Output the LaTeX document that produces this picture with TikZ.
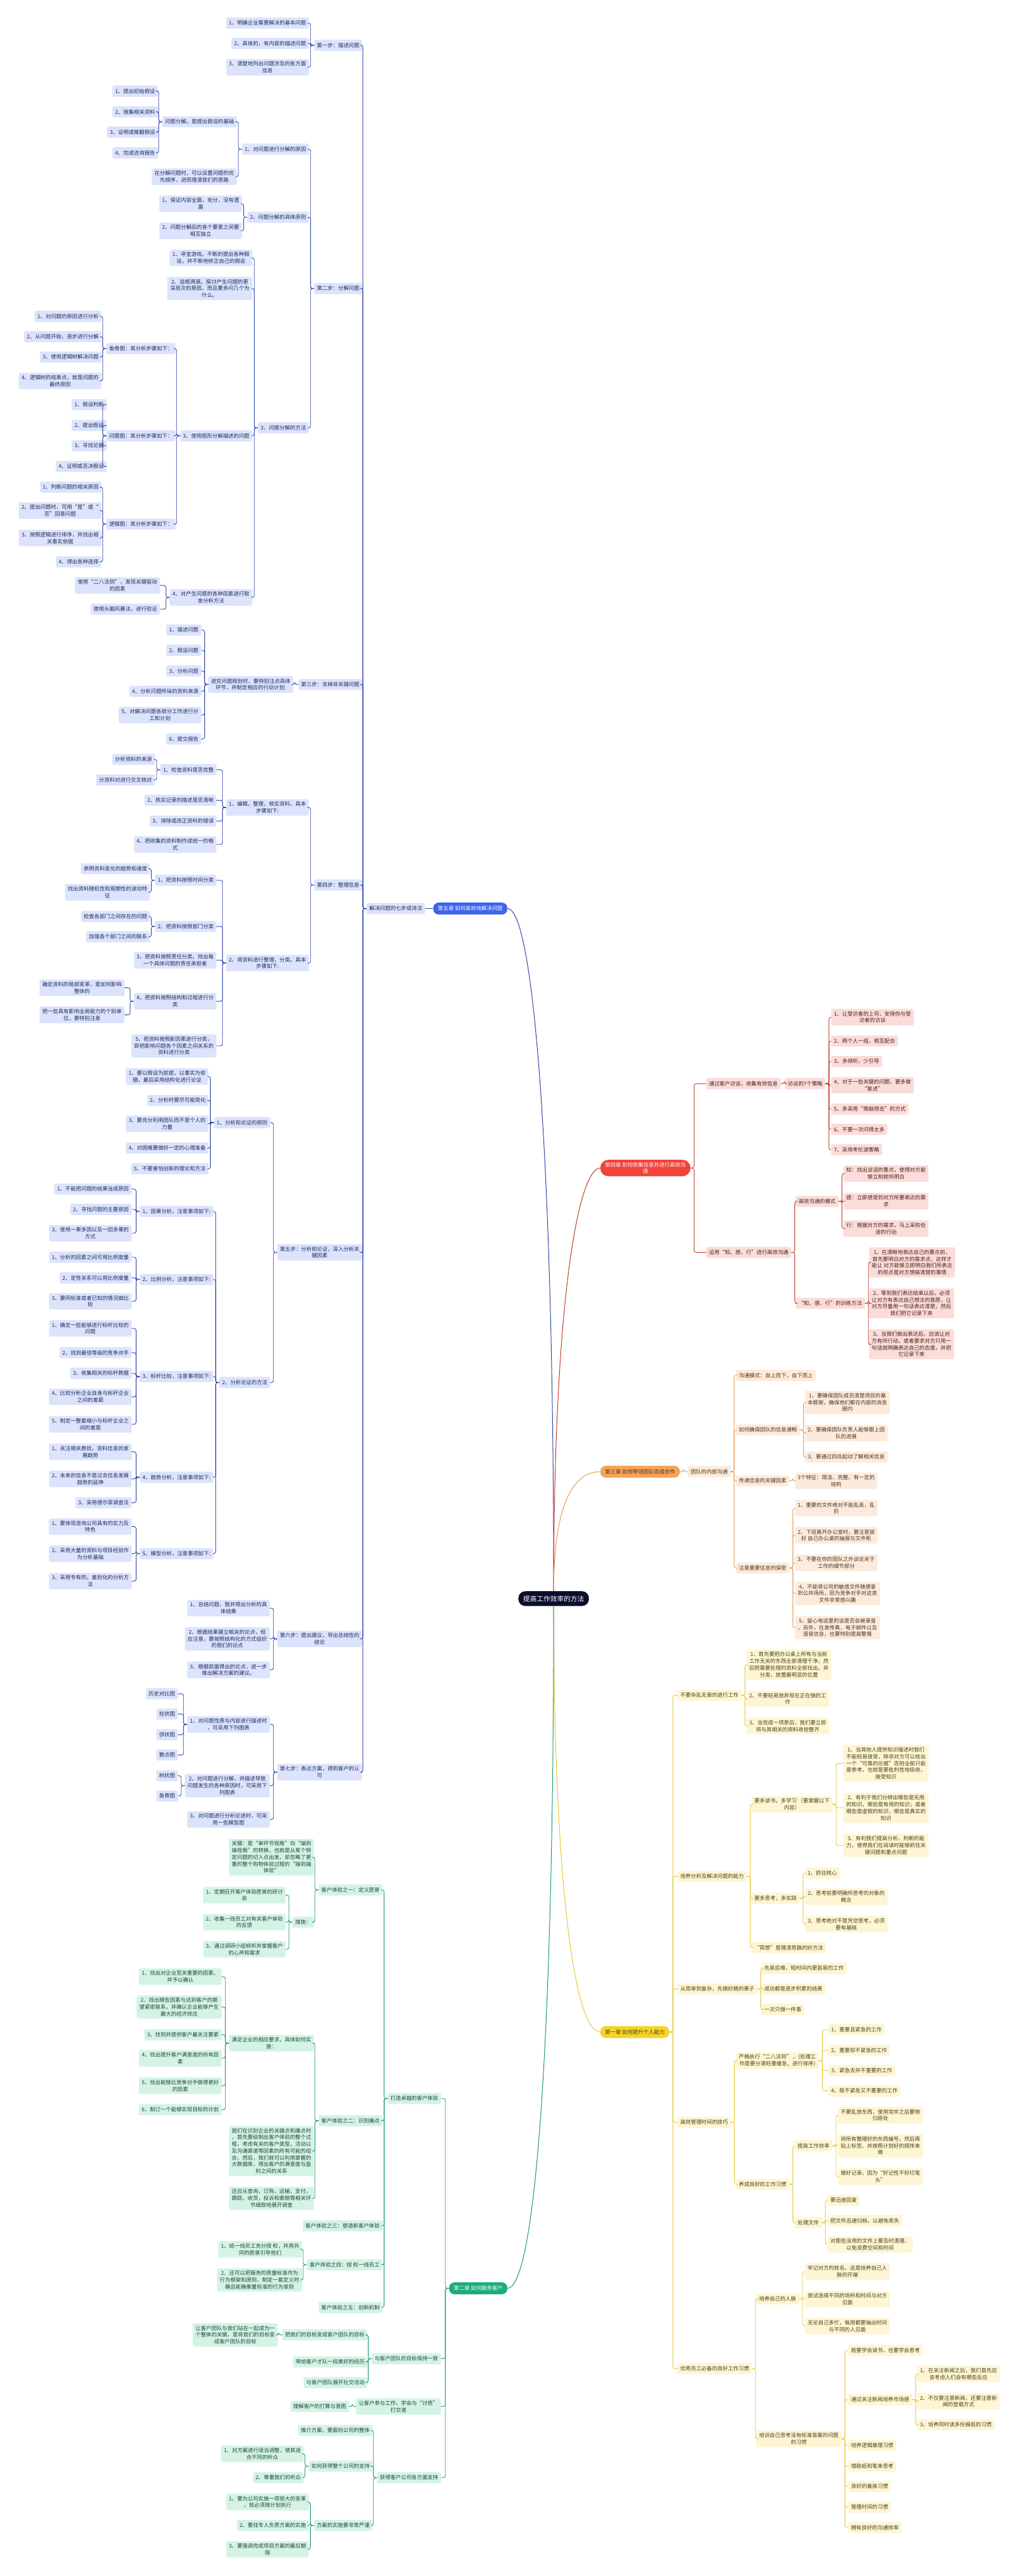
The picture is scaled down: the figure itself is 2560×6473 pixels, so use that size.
\documentclass[tikz,border=0pt]{standalone}
\usepackage{fontspec}
\setmainfont{Noto Sans CJK SC}

\definecolor{bluLine}{HTML}{3045A8}
\definecolor{bluFill}{HTML}{DCE3FB}
\definecolor{bluText}{HTML}{1E2A5E}
\definecolor{bluChap}{HTML}{3C64F0}
\definecolor{redLine}{HTML}{C0392B}
\definecolor{redFill}{HTML}{FADCD9}
\definecolor{redText}{HTML}{4A1F1B}
\definecolor{redChap}{HTML}{F0433A}
\definecolor{orgLine}{HTML}{E59A4F}
\definecolor{orgFill}{HTML}{FCEBDC}
\definecolor{orgText}{HTML}{4A3320}
\definecolor{orgChap}{HTML}{F5A458}
\definecolor{yelLine}{HTML}{E6C72E}
\definecolor{yelFill}{HTML}{FDF5D3}
\definecolor{yelText}{HTML}{4A4018}
\definecolor{yelChap}{HTML}{F5D327}
\definecolor{grnLine}{HTML}{1A9A6B}
\definecolor{grnFill}{HTML}{D4F3E5}
\definecolor{grnText}{HTML}{1C4636}
\definecolor{grnChap}{HTML}{1BAE77}
\definecolor{ctrFill}{HTML}{0B0D2E}

\begin{document}
\begin{tikzpicture}[x=1pt, y=-1pt,
    box/.style={rounded corners=4pt, inner xsep=7pt, inner ysep=6pt,
                minimum height=28pt, align=center,
                font=\fontsize{13.3}{17}\selectfont},
    bluebox/.style={box, fill=bluFill, text=bluText},
    redbox/.style={box, fill=redFill, text=redText},
    orgbox/.style={box, fill=orgFill, text=orgText},
    yelbox/.style={box, fill=yelFill, text=yelText},
    grnbox/.style={box, fill=grnFill, text=grnText},
    chap/.style={box, rounded corners=14pt, inner xsep=12pt, minimum height=30pt},
    link/.style={line width=1.4pt, rounded corners=5pt},
    bluelink/.style={link, draw=bluLine},
    redlink/.style={link, draw=redLine},
    orglink/.style={link, draw=orgLine},
    yellink/.style={link, draw=yelLine},
    grnlink/.style={link, draw=grnLine}
  ]
  \useasboundingbox (0,0) rectangle (2560,6473);
  \fill[white] (0,0) rectangle (2560,6473);

  % centre
  \node[chap, fill=ctrFill, text=white, rounded corners=17pt, minimum height=37pt,
        font=\fontsize{17}{20}\selectfont] (ctr) at (1391,4017) {提高工作效率的方法};

  % ---------------- 第五章 ----------------
  \node[chap, fill=bluChap, text=white, anchor=east] (b0) at (1275,2283) {第五章 如何高效地解决问题};
  \node[bluebox, anchor=east] (b) at (1068,2283) {解决问题的七步成诗法};
  \foreach \n/\y/\txt in {b1/114/{第一步：描述问题}, b2/725/{第二步：分解问题},
      b3/1720/{第三步：去掉非关键问题}, b4/2224/{第四步：整理信息},
      b5/3147/{第五步：分析和论证，深入分析关\\键因素},
      b6/4118/{第六步：提出建议，导出总结性的\\结论},
      b7/4453/{第七步：表达方案，得到客户的认\\可}}
    \node[bluebox, anchor=east] (\n) at (910,\y) {\txt};

  % step 1
  \foreach \n/\y/\txt in {b1a/58/{1、明确企业需要解决的基本问题}, b1b/109/{2、具体的，有内容的描述问题},
      b1c/169/{3、清楚地列出问题涉及的各方面\\信息}}
    \node[bluebox, anchor=east] (\n) at (776,\y) {\txt};

  % step 2
  \foreach \n/\y/\txt in {b21/375/{1、对问题进行分解的原因}, b22/546/{2、问题分解的具体原则},
      b23/1075/{3、问题分解的方法}}
    \node[bluebox, anchor=east] (\n) at (776,\y) {\txt};
  \foreach \n/\y/\txt in {b21a/306/{问题分解，是提出假设的基础},
      b21b/444/{在分解问题时，可以设置问题的优\\先顺序，进而理清我们的思路}}
    \node[bluebox, anchor=east] (\n) at (595,\y) {\txt};
  \foreach \n/\y/\txt in {b21a1/229/{1、提出初始假设}, b21a2/281/{2、搜集相关资料},
      b21a3/332/{3、证明或推翻假设}, b21a4/384/{4、完成咨询报告}}
    \node[bluebox, anchor=east] (\n) at (397,\y) {\txt};
  \foreach \n/\y/\txt in {b22a/512/{1、保证内容全面，充分，没有遗\\漏},
      b22b/580/{2、问题分解后的各个要素之间要\\相互独立}}
    \node[bluebox, anchor=east] (\n) at (608,\y) {\txt};
  \foreach \n/\y/\txt in {b23a/648/{1、寻宝游戏。不断的提出各种假\\设，并不断地修正自己的假设},
      b23b/725/{2、追根溯源。探讨产生问题的更\\深层次的原因，而且要多问几个为\\什么。},
      b23c/1095/{3、使用图形分解描述的问题},
      b23d/1501/{4、对产生问题的各种因素进行取\\舍分析方法}}
    \node[bluebox, anchor=east] (\n) at (634,\y) {\txt};
  \foreach \n/\y/\txt in {fish/876/{鱼骨图：其分析步骤如下：}, qmap/1095/{问题图：其分析步骤如下：},
      lmap/1317/{逻辑图：其分析步骤如下：}}
    \node[bluebox, anchor=east] (\n) at (441,\y) {\txt};
  \foreach \n/\y/\txt in {fish1/795/{1、对问题的原因进行分析}, fish2/846/{2、从问题开始，逐步进行分解},
      fish3/897/{3、使用逻辑树解决问题}, fish4/957/{4、逻辑树的结束点，就是问题的\\最终原因}}
    \node[bluebox, anchor=east] (\n) at (255,\y) {\txt};
  \foreach \n/\y/\txt in {qmap1/1017/{1、假设判断}, qmap2/1069/{2、提出假设},
      qmap3/1120/{3、寻找论据}, qmap4/1172/{4、证明或否决假设}}
    \node[bluebox, anchor=east] (\n) at (268,\y) {\txt};
  \foreach \n/\y/\txt in {lmap1/1224/{1、判断问题的相关原因},
      lmap2/1283/{2、提出问题时，可用“是”或“\\否”回答问题},
      lmap3/1352/{3、按照逻辑进行排序，并找出相\\关事实依据}, lmap4/1412/{4、得出各种选择}}
    \node[bluebox, anchor=east] (\n) at (255,\y) {\txt};
  \foreach \n/\y/\txt in {b23d1/1471/{使用“二八法则”，发现关键驱动\\的因素},
      b23d2/1531/{使用头脑风暴法，进行验证}}
    \node[bluebox, anchor=east] (\n) at (402,\y) {\txt};

  % step 3
  \node[bluebox, anchor=east] (b31) at (737,1720) {进究问题规划时，要特别注点具体\\环节，并制定相应的行动计划:};
  \foreach \n/\y/\txt in {b31a/1583/{1、描述问题}, b31b/1634/{2、假设问题}, b31c/1686/{3、分析问题},
      b31d/1737/{4、分析问题所垛的资料来源}, b31e/1797/{5、对解决问题各部分工作进行分\\工和计划},
      b31f/1857/{6、提交报告}}
    \node[bluebox, anchor=east] (\n) at (506,\y) {\txt};

  % step 4
  \foreach \n/\y/\txt in {b41/2029/{1、编辑，整理，核实资料，具本\\步骤如下:},
      b42/2420/{2、将资料进行整理，分类。具本\\步骤如下:}}
    \node[bluebox, anchor=east] (\n) at (776,\y) {\txt};
  \foreach \n/\y/\txt in {b411/1934/{1、检查资料是否完整}, b412/2011/{2、核实记录的描述是否清晰},
      b413/2063/{3、排除或改正资料的错误}, b414/2122/{4、把收集的资料制作成统一的格\\式},
      b421/2212/{1、把资料按照时间分类}, b422/2328/{2、把资料按照部门分类},
      b423/2413/{3、把资料按照责任分类。找出每\\一个具体问题的责任承担者},
      b424/2516/{4、把资料按照结构和过程进行分\\类},
      b425/2628/{5、把资料按照影因素进行分类，\\即把影响问题各个因素之间关系的\\资料进行分类}}
    \node[bluebox, anchor=east] (\n) at (544,\y) {\txt};
  \foreach \n/\y/\txt in {b411a/1908/{分析资料的来源}, b411b/1960/{分资料对进行交叉核对}}
    \node[bluebox, anchor=east] (\n) at (389,\y) {\txt};
  \foreach \n/\y/\txt in {b421a/2183/{表明资料变化的趋势和速度},
      b421b/2242/{找出资料随机性和周期性的波动特\\征},
      b422a/2303/{检查各部门之间存在的问题}, b422b/2354/{加强各个部门之间的联系}}
    \node[bluebox, anchor=east] (\n) at (377,\y) {\txt};
  \foreach \n/\y/\txt in {b424a/2482/{确定资料的局部变革，是如何影响\\整体的},
      b424b/2550/{把一些具有影响全局能力的个别单\\位，要特别注意}}
    \node[bluebox, anchor=east] (\n) at (313,\y) {\txt};

  % step 5
  \foreach \n/\y/\txt in {b51/2821/{1、分析和论证的原则}, b52/3474/{2、分析论证的方法}}
    \node[bluebox, anchor=east] (\n) at (679,\y) {\txt};
  \foreach \n/\y/\txt in {b51a/2705/{1、要以假设为前提，以事实为依\\据，最后采用结构化进行论证},
      b51b/2765/{2、分析时要尽可能简化}, b51c/2824/{3、要充分利用团队而不是个人的\\力量},
      b51d/2885/{4、对困难要做好一定的心理准备}, b51e/2937/{5、不要害怕创新的理论和方法}}
    \node[bluebox, anchor=east] (\n) at (524,\y) {\txt};
  \foreach \n/\y/\txt in {m1/3044/{1、因果分析，注意事项如下:}, m2/3215/{2、比例分析，注意事项如下:},
      m3/3459/{3、标杆比较，注意事项如下:}, m4/3712/{4、趋势分析，注意事项如下:},
      m5/3904/{5、模型分析，注意事项如下:}}
    \node[bluebox, anchor=east] (\n) at (536,\y) {\txt};
  \foreach \n/\y/\txt in {m1a/2988/{1、不能把问题的结果当成原因}, m1b/3039/{2、寻找问题的主要原因},
      m1c/3099/{3、使用一果多因以及一因多果的\\方式},
      m2a/3159/{1、分析的因素之间可用比例度量}, m2b/3211/{2、定性关系可以用比例度量},
      m2c/3270/{3、要同标准或者已知的情况做比\\较},
      m3a/3338/{1、确定一些能够进行标杆比较的\\问题}, m3b/3399/{2、找到最佳等级的竞争对手},
      m3c/3451/{3、收集相关的标杆数据}, m3d/3510/{4、比较分析企业自身与标杆企业\\之间的差距},
      m3e/3579/{5、制定一整套缩小与标杆企业之\\间的差距},
      m4a/3648/{1、关注相关数扰，资料信息的发\\展趋势}, m4b/3716/{2、未来的信息不是过去信息发展\\趋势的延伸},
      m4c/3776/{3、采用德尔菲调查法},
      m5a/3836/{1、要体现咨询公司具有的实力及\\特色}, m5b/3904/{2、采用大量的资料与项目经验作\\为分析基础},
      m5c/3973/{3、采用专有的，差别化的分析方\\法}}
    \node[bluebox, anchor=east] (\n) at (331,\y) {\txt};

  % step 6 and 7
  \foreach \n/\y/\txt in {b6a/4041/{1、总结问题，我并得出分析的具\\体结果},
      b6b/4118/{2、根据结果建立相关的论点，但\\应注意，要按照结构化的方式组织\\的我们的论点},
      b6c/4196/{3、根据前面得出的论点，进一步\\推出解决方案的建议。},
      b7a/4333/{1、对问题性质与内容进行描述时\\，可采用下列图表},
      b7b/4487/{2、对问题进行分解，并描述导致\\问题发生的各种原因时，可采用下\\列图表},
      b7c/4572/{3、对问题进行分析论述时，可采\\用一些模型图}}
    \node[bluebox, anchor=east] (\n) at (678,\y) {\txt};
  \foreach \n/\y/\txt in {b7a1/4256/{历史对比图}, b7a2/4307/{柱状图}, b7a3/4359/{饼状图},
      b7a4/4410/{散点图}, b7b1/4462/{树状图}, b7b2/4513/{鱼骨图}}
    \node[bluebox, anchor=east] (\n) at (447,\y) {\txt};

  % blue links
  \draw[bluelink] (b0.west) -- (b.east);
  \foreach \p/\kids in {b/{b1,b2,b3,b4,b5,b6,b7}, b1/{b1a,b1b,b1c}, b2/{b21,b22,b23},
      b21/{b21a,b21b}, b21a/{b21a1,b21a2,b21a3,b21a4}, b22/{b22a,b22b},
      b23/{b23a,b23b,b23c,b23d}, b23c/{fish,qmap,lmap}, fish/{fish1,fish2,fish3,fish4},
      qmap/{qmap1,qmap2,qmap3,qmap4}, lmap/{lmap1,lmap2,lmap3,lmap4}, b23d/{b23d1,b23d2},
      b3/{b31}, b31/{b31a,b31b,b31c,b31d,b31e,b31f}, b4/{b41,b42},
      b41/{b411,b412,b413,b414}, b411/{b411a,b411b},
      b42/{b421,b422,b423,b424,b425}, b421/{b421a,b421b}, b422/{b422a,b422b},
      b424/{b424a,b424b}, b5/{b51,b52}, b51/{b51a,b51b,b51c,b51d,b51e},
      b52/{m1,m2,m3,m4,m5}, m1/{m1a,m1b,m1c}, m2/{m2a,m2b,m2c}, m3/{m3a,m3b,m3c,m3d,m3e},
      m4/{m4a,m4b,m4c}, m5/{m5a,m5b,m5c}, b6/{b6a,b6b,b6c}, b7/{b7a,b7b,b7c},
      b7a/{b7a1,b7a2,b7a3,b7a4}, b7b/{b7b1,b7b2}}
    \foreach \c in \kids
      \draw[bluelink] (\p.west) -- ++(-9,0) |- (\c.east);

  % ---------------- 第二章 ----------------
  \node[chap, fill=grnChap, text=white, anchor=east] (g0) at (1275,5750) {第二章 如何服务客户};
  \foreach \n/\y/\txt in {g1/5273/{打造卓越的客户体验}, g2/5927/{与客户团队的目标保持一致},
      g3/6047/{让客户参与工作，学会与“讨债”\\打交道}, g4/6226/{获得客户公司各方面支持}}
    \node[grnbox, anchor=east] (\n) at (1108,\y) {\txt};
  \foreach \n/\y/\txt in {g11/4749/{客户体验之一：定义愿景}, g12/5329/{客户体验之二：识别痛点},
      g13/5593/{客户体验之三：塑造新客户体验}, g14/5691/{客户体验之四：授 权一线员工},
      g15/5798/{客户体验之五：创新机制}}
    \node[grnbox, anchor=east] (\n) at (961,\y) {\txt};
  \foreach \n/\y/\txt in {g11a/4667/{关键：是“单环节视角”向“端到\\端视角”的转换，也就是从某个特\\定问题的切入点出发，却忽略了更\\重的整个购物体验过程的“端到端\\体验”},
      g11b/4830/{措施：},
      g12a/5134/{满足企业的相应要求，具体如何实\\施：},
      g12b/5405/{我们在识别企业的关键点和痛点时\\，首先要绘制出客户体验的整个过\\程，考虑有关的客户类型，活动以\\及沟通渠道等因素的所有可能的组\\合。然后，我们就可以利用掌握的\\大数据库，得出客户的满意度与盈\\利之间的关系},
      g12c/5524/{还应从查询，订购，运输，支付，\\跟踪，收货，投诉和索赔等相关环\\节细致地展开调查}}
    \node[grnbox, anchor=east] (\n) at (789,\y) {\txt};
  \foreach \n/\y/\txt in {g11b1/4762/{1、定期召开客户体验愿景的研讨\\会},
      g11b2/4830/{2、收集一线员工对有关客户体验\\的反馈},
      g11b3/4898/{3、通过调研小组倾听并掌握客户\\的心声和需求}}
    \node[grnbox, anchor=east] (\n) at (718,\y) {\txt};
  \foreach \n/\y/\txt in {g12a1/4967/{1、找出对企业至关重要的因素，\\并予以确认},
      g12a2/5043/{2、找出哪些因素与达到客户的期\\望紧密联系，并确认企业能够产生\\最大的经济效应},
      g12a3/5113/{3、找到并提供客户最关注要素}, g12a4/5172/{4、找出提升客户满意度的所有因\\素},
      g12a5/5241/{5、找出能够比竞争对手做得更好\\的因素}, g12a6/5301/{6、制订一个能够实现目标的计划}}
    \node[grnbox, anchor=east] (\n) at (557,\y) {\txt};
  \foreach \n/\y/\txt in {g14a/5652/{1、给一线员工充分授 权，并用共\\同的愿景引导他们},
      g14b/5729/{2、还可以把服务的质量标准作为\\行为框架和原则，制定一套定义时\\确且能确衡量标准的行为准则}}
    \node[grnbox, anchor=east] (\n) at (759,\y) {\txt};
  \foreach \n/\y/\txt in {g21/5867/{把我们的目标变成客户团队的目标}, g22/5935/{带给客户才队一段美好的经历},
      g23/5987/{与客户团队展开社交活动}}
    \node[grnbox, anchor=east] (\n) at (923,\y) {\txt};
  \node[grnbox, anchor=east] (g21a) at (698,5867) {让客户团队与我们站在一起成为一\\个整体的关键，是将我们的目标变\\成客户团队的目标};
  \node[grnbox, anchor=east] (g31) at (877,6047) {理解客户的打算与意图};
  \foreach \n/\y/\txt in {g41/6107/{推介方案，要面向公司的整体}, g42/6197/{如何获得整个公司的支持},
      g43/6346/{方案的实施要非常严谨}}
    \node[grnbox, anchor=east] (\n) at (936,\y) {\txt};
  \foreach \n/\y/\txt in {g42a/6166/{1、对方案进行适当调整，使其适\\合不同的听众}, g42b/6226/{2、尊重我们的听众}}
    \node[grnbox, anchor=east] (\n) at (763,\y) {\txt};
  \foreach \n/\y/\txt in {g43a/6287/{1、要为公司实施一项很大的变革\\，就必须按计划执行},
      g43b/6346/{2、要找专人负责方案的实施}, g43c/6406/{3、要强调完成项目方案的最后期\\限}}
    \node[grnbox, anchor=east] (\n) at (776,\y) {\txt};

  % green links
  \foreach \p/\kids in {g0/{g1,g2,g3,g4}, g1/{g11,g12,g13,g14,g15}, g11/{g11a,g11b},
      g11b/{g11b1,g11b2,g11b3}, g12/{g12a,g12b,g12c},
      g12a/{g12a1,g12a2,g12a3,g12a4,g12a5,g12a6}, g14/{g14a,g14b}, g2/{g21,g22,g23},
      g21/{g21a}, g3/{g31}, g4/{g41,g42,g43}, g42/{g42a,g42b}, g43/{g43a,g43b,g43c}}
    \foreach \c in \kids
      \draw[grnlink] (\p.west) -- ++(-9,0) |- (\c.east);

  % ---------------- 第四章 ----------------
  \node[chap, fill=redChap, text=white, rounded corners=20pt, anchor=west] (r0) at (1508,2935) {第四章 如何收集信息并进行高效沟\\通};
  \foreach \n/\y/\txt in {r1/2723/{通过客户访谈，收集有效信息}, r2/3147/{运用“知、感、行”进行高效沟通}}
    \node[redbox, anchor=west] (\n) at (1774,\y) {\txt};
  \node[redbox, anchor=west] (r11) at (1972,2723) {访谈的7个策略};
  \foreach \n/\y/\txt in {r11a/2556/{1、让受访者的上司，安排你与受\\访者的访谈}, r11b/2616/{2、两个人一组，相互配合},
      r11c/2667/{3、多倾听，少引导}, r11d/2727/{4、对于一些关键的问题，要多做\\“复述”},
      r11e/2787/{5、多采用“旁敲侧击”的方式}, r11f/2838/{6、不要一次问得太多},
      r11g/2889/{7、采用考伦波策略}}
    \node[redbox, anchor=west] (\n) at (2088,\y) {\txt};
  \foreach \n/\y/\txt in {r21/3019/{高效沟通的模式}, r22/3275/{“知、感、行”的训练方法}}
    \node[redbox, anchor=west] (\n) at (1999,\y) {\txt};
  \foreach \n/\y/\txt in {r21a/2949/{知：找出谈话的重点，使得对方能\\够立刻就听明白},
      r21b/3018/{感：立即感受到对方所要表达的需\\求}, r21c/3087/{行：根据对方的需求，马上采购合\\适的行动}}
    \node[redbox, anchor=west] (\n) at (2119,\y) {\txt};
  \foreach \n/\y/\txt in {r22a/3172/{1、在清晰地表达自己的要点前，\\首先要明白对方的需求点，这样才\\能让 对方能够立即明白我们所表达\\的观点是对方想搞清楚的事情},
      r22b/3275/{2、等到我们表达结束以后，必须\\让对方有表达自己想法的意愿，让\\对方尽量用一句话表达清楚，然后\\我们把它记录下来},
      r22c/3378/{3、当我们做出表达后，应该让对\\方有所行动，或者要求对方只用一\\句话就明确表达自己的态度，并把\\它记录下来}}
    \node[redbox, anchor=west] (\n) at (2183,\y) {\txt};

  % red links
  \foreach \p/\kids in {r0/{r1,r2}, r1/{r11}, r11/{r11a,r11b,r11c,r11d,r11e,r11f,r11g},
      r2/{r21,r22}, r21/{r21a,r21b,r21c}, r22/{r22a,r22b,r22c}}
    \foreach \c in \kids
      \draw[redlink] (\p.east) -- ++(9,0) |- (\c.west);

  % ---------------- 第三章 ----------------
  \node[chap, fill=orgChap, text=orgText, anchor=west] (o0) at (1508,3698) {第三章 如何带领团队完成合作};
  \node[orgbox, anchor=west] (o1) at (1728,3698) {团队的内部沟通};
  \foreach \n/\y/\txt in {o11/3456/{沟通模式：自上而下，自下而上}, o12/3593/{如何确保团队的信息通畅},
      o13/3721/{传递信息的关键因素}, o14/3940/{注意重要信息的保密}}
    \node[orgbox, anchor=west] (\n) at (1849,\y) {\txt};
  \foreach \n/\y/\txt in {o12a/3524/{1、要确保团队成员清楚项目的基\\本框架，确保他们都在内部的消息\\圈内},
      o12b/3601/{2、要确保团队负责人能够跟上团\\队的进展}, o12c/3661/{3、要通过四处起动了解相关信息}}
    \node[orgbox, anchor=west] (\n) at (2022,\y) {\txt};
  \foreach \n/\y/\txt in {o13a/3721/{3个特征：简洁、完整、有一定的\\结构},
      o14a/3790/{1、重要的文件绝对不能乱丢，乱\\扔},
      o14b/3858/{2、下班离开办公室时，要注意锁\\好 自己办公桌的抽屉与文件柜},
      o14c/3927/{3、不要在你的团队之外谈论关于\\工作的细节部分},
      o14d/4004/{4、不能将公司的敏感文件随便拿\\到公共场所，因为竞争对手对这类\\文件非常感兴趣},
      o14e/4090/{5、留心电话里的谈是否会被录音\\，另外，在发传真，电子邮件以及\\语音信息，也要特别提高警惕}}
    \node[orgbox, anchor=west] (\n) at (1997,\y) {\txt};

  % orange links
  \foreach \p/\kids in {o0/{o1}, o1/{o11,o12,o13,o14}, o12/{o12a,o12b,o12c}, o13/{o13a},
      o14/{o14a,o14b,o14c,o14d,o14e}}
    \foreach \c in \kids
      \draw[orglink] (\p.east) -- ++(9,0) |- (\c.west);

  % ---------------- 第一章 ----------------
  \node[chap, fill=yelChap, text=yelText, anchor=west] (y0) at (1508,5106) {第一章 如何提升个人能力};
  \foreach \n/\y/\txt in {y1/4260/{不要杂乱无章的进行工作}, y2/4715/{培养分析及解决问题的能力},
      y3/4998/{从简单到复杂，先摘好摘的果子}, y4/5333/{高效管理时间的技巧},
      y5/5952/{优秀员工必备的良好工作习惯}}
    \node[yelbox, anchor=west] (\n) at (1702,\y) {\txt};
  \foreach \n/\y/\txt in {y1a/4183/{1、首先要把办公桌上所有与当前\\工作无关的东西全部清理干净，然\\后把需要处理的资料全部找出，并\\分类，放置最明显的位置},
      y1b/4269/{2、不要轻易放弃现在正在做的工\\作},
      y1c/4337/{3、当完成一项茶后，我们要立即\\将与其相关的资料收拾整齐}}
    \node[yelbox, anchor=west] (\n) at (1875,\y) {\txt};
  \foreach \n/\y/\txt in {y21/4534/{要多读书，多学习 （要掌握以下\\内容）}, y22/4770/{要多思考，多实践},
      y23/4894/{“冥想”是理清思路的好方法}}
    \node[yelbox, anchor=west] (\n) at (1888,\y) {\txt};
  \foreach \n/\y/\txt in {y21a/4431/{1、当其他人提供知识描述时我们\\不能轻易接受，除非对方可以给出\\一个“可靠的论据”否则全部只能\\是参考，也就是要批判性地吸收，\\接受知识},
      y21b/4543/{2、有利于我们分辨出哪些是无用\\的知识，哪些是有用的知识；或者\\哪些是虚假的知识，哪些是真实的\\知识},
      y21c/4637/{3、有利我们提高分析，判断的能\\力，使得我们在阅读时能够抓住关\\键问题和重点问题}}
    \node[yelbox, anchor=west] (\n) at (2119,\y) {\txt};
  \foreach \n/\y/\txt in {y22a/4707/{1、抓住核心}, y22b/4766/{2、思考前要明确所思考的对象的\\概念},
      y22c/4835/{3、思考绝对不是凭空思考，必须\\要有基础}}
    \node[yelbox, anchor=west] (\n) at (2022,\y) {\txt};
  \foreach \n/\y/\txt in {y3a/4946/{先易后难，短时间内更容易的工作}, y3b/4998/{成功都是逐步积累的结果},
      y3c/5049/{一次只做一件事}}
    \node[yelbox, anchor=west] (\n) at (1913,\y) {\txt};
  \foreach \n/\y/\txt in {y41/5178/{严格执行“二八法则” 。(处理工\\作是要分清轻重缓急，进行排序)},
      y42/5489/{养成良好的工作习惯}}
    \node[yelbox, anchor=west] (\n) at (1849,\y) {\txt};
  \foreach \n/\y/\txt in {y41a/5100/{1、重要且紧急的工作}, y41b/5152/{2、重要却不紧急的工作},
      y41c/5203/{3、紧急去并不重要的工作}, y41d/5254/{4、既不紧急又不重要的工作}}
    \node[yelbox, anchor=west] (\n) at (2081,\y) {\txt};
  \foreach \n/\y/\txt in {y421/5392/{提高工作效率}, y422/5585/{处理文件}}
    \node[yelbox, anchor=west] (\n) at (1997,\y) {\txt};
  \foreach \n/\y/\txt in {y421a/5315/{不要乱放东西，使用完毕之后要物\\归原处},
      y421b/5392/{将所有整理好的东西编号，然后再\\贴上标签，并按照计划好的顺序来\\做},
      y421c/5469/{做好记录，因为“好记性不好烂笔\\头”}}
    \node[yelbox, anchor=west] (\n) at (2105,\y) {\txt};
  \foreach \n/\y/\txt in {y422a/5529/{要迅速回复}, y422b/5580/{把文件迅速归档，以避免丢失},
      y422c/5640/{对那些没用的文件上要及时清理，\\以免浪费空间和时间}}
    \node[yelbox, anchor=west] (\n) at (2079,\y) {\txt};
  \foreach \n/\y/\txt in {y51/5777/{培养自己的人脉}, y52/6128/{培训自己思考没有标准答案的问题\\的习惯}}
    \node[yelbox, anchor=west] (\n) at (1900,\y) {\txt};
  \foreach \n/\y/\txt in {y51a/5708/{牢记对方的姓名，这是培养自己人\\脉的开端},
      y51b/5777/{尝试选择不同的场所和时间与对方\\见面},
      y51c/5845/{无论自己多忙，每周都要抽出时间\\与不同的人见面}}
    \node[yelbox, anchor=west] (\n) at (2022,\y) {\txt};
  \foreach \n/\y/\txt in {y52a/5906/{既要学会读书，也要学会思考}, y52b/6030/{通过关注新闻培养市场感},
      y52c/6145/{培养逻辑推理习惯}, y52d/6197/{借助纸和笔来思考}, y52e/6248/{良好的着装习惯},
      y52f/6300/{管理时间的习惯}, y52g/6351/{拥有良好的沟通效率}}
    \node[yelbox, anchor=west] (\n) at (2131,\y) {\txt};
  \foreach \n/\y/\txt in {y52b1/5965/{1、在关注新闻之后，我们首先应\\该考虑人们会有哪些反应},
      y52b2/6034/{2、不仅要注意新闻，还要注意新\\闻的登载方式}, y52b3/6093/{3、培养同时读多份报纸的习惯}}
    \node[yelbox, anchor=west] (\n) at (2304,\y) {\txt};

  % yellow links
  \foreach \p/\kids in {y0/{y1,y2,y3,y4,y5}, y1/{y1a,y1b,y1c}, y2/{y21,y22,y23},
      y21/{y21a,y21b,y21c}, y22/{y22a,y22b,y22c}, y3/{y3a,y3b,y3c}, y4/{y41,y42},
      y41/{y41a,y41b,y41c,y41d}, y42/{y421,y422}, y421/{y421a,y421b,y421c},
      y422/{y422a,y422b,y422c}, y5/{y51,y52}, y51/{y51a,y51b,y51c},
      y52/{y52a,y52b,y52c,y52d,y52e,y52f,y52g}, y52b/{y52b1,y52b2,y52b3}}
    \foreach \c in \kids
      \draw[yellink] (\p.east) -- ++(9,0) |- (\c.west);

  % chapter curves
  \draw[bluelink, line width=1.6pt] (ctr.north) .. controls (1391,2900) and (1340,2283) .. (b0.east);
  \draw[redlink, line width=1.6pt] (ctr.north) .. controls (1391,3250) and (1455,2935) .. (r0.west);
  \draw[orglink, line width=1.6pt] (ctr.north) .. controls (1391,3780) and (1440,3698) .. (o0.west);
  \draw[yellink, line width=1.6pt] (ctr.south) .. controls (1391,4700) and (1440,5106) .. (y0.west);
  \draw[grnlink, line width=1.6pt] (ctr.south) .. controls (1391,5200) and (1340,5750) .. (g0.east);

\end{tikzpicture}
\end{document}
